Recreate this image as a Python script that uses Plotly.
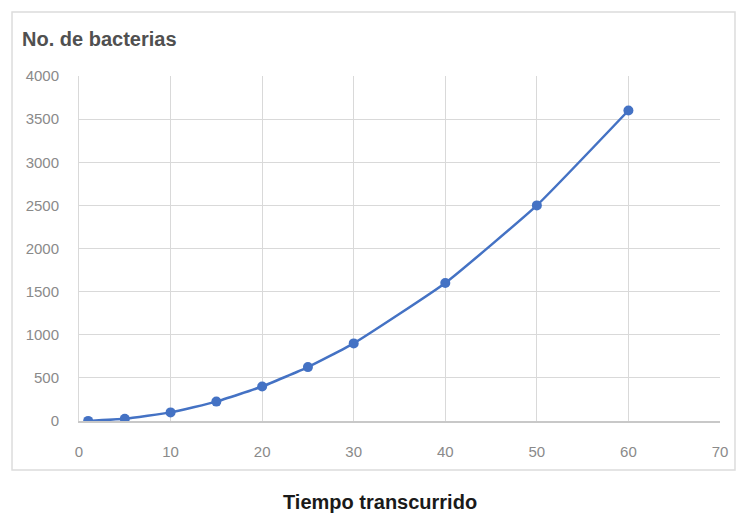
import plotly.graph_objects as go

# Elapsed time and bacteria count
tiempo = [1, 5, 10, 15, 20, 25, 30, 40, 50, 60]
bacterias = [1, 25, 100, 225, 400, 625, 900, 1600, 2500, 3600]

x_ticks = [0, 10, 20, 30, 40, 50, 60, 70]
y_ticks = [0, 500, 1000, 1500, 2000, 2500, 3000, 3500, 4000]

blue = "#4472C4"
grid = "#d9d9d9"
tick_font = dict(family="Liberation Sans, Arial, sans-serif", size=15, color="#8a8a8a")

fig = go.Figure()
fig.add_trace(go.Scatter(
    x=tiempo, y=bacterias, mode="lines+markers",
    line=dict(color=blue, width=2.5, shape="spline", smoothing=0.4),
    marker=dict(color=blue, size=10, symbol="circle"),
    showlegend=False, hoverinfo="x+y",
))

fig.update_layout(
    width=740, height=514,
    margin=dict(l=79, r=20, t=76, b=93),
    paper_bgcolor="white", plot_bgcolor="white",
    xaxis=dict(range=[0, 70], tickvals=x_ticks, showgrid=True, gridcolor=grid,
               gridwidth=1, zeroline=False, showline=True, linecolor="#c8c8c8",
               linewidth=1.5, ticks="", tickfont=tick_font, ticklabelstandoff=16),
    yaxis=dict(range=[0, 4000], tickvals=y_ticks, showgrid=True, gridcolor=grid,
               gridwidth=1, zeroline=False, showline=True, linecolor=grid,
               ticks="", tickfont=tick_font, ticklabelstandoff=16),
    shapes=[dict(type="rect", xref="paper", yref="paper",
                 x0=-0.1045, x1=1.0234, y0=-0.142, y1=1.1855,
                 line=dict(color="#dcdcdc", width=1.5), fillcolor="rgba(0,0,0,0)",
                 layer="below")],
    annotations=[
        dict(text="<b>No. de bacterias</b>", xref="paper", yref="paper",
             x=(20 - 79) / 641, y=(421 - 39) / 345, xanchor="left", yanchor="middle",
             showarrow=False,
             font=dict(family="Liberation Sans, Arial, sans-serif", size=20, color="#505050")),
        dict(text="<b>Tiempo transcurrido</b>", xref="paper", yref="paper",
             x=(380 - 79) / 641, y=(421 - 502) / 345, xanchor="center", yanchor="middle",
             showarrow=False,
             font=dict(family="Liberation Sans, Arial, sans-serif", size=20, color="#1a1a1a")),
    ],
)

fig.write_html("out.html")
